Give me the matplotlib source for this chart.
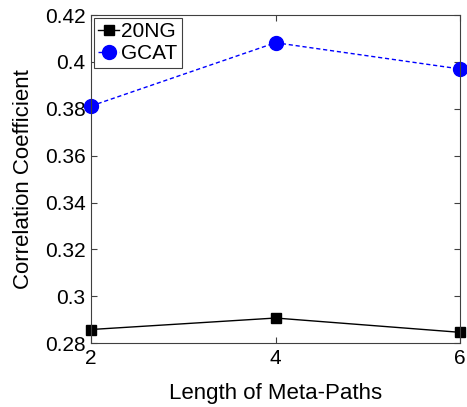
import matplotlib
matplotlib.use("Agg")
import matplotlib.pyplot as plt

plt.rcParams['font.family'] = ['Liberation Sans', 'DejaVu Sans']

path_len = [2, 4, 6]
ng20 = [0.2858, 0.2907, 0.2846]
gcat = [0.3812, 0.4082, 0.3970]
y_ticks = [0.28, 0.3, 0.32, 0.34, 0.36, 0.38, 0.4, 0.42]
y_tick_labels = ['0.28', '0.3', '0.32', '0.34', '0.36', '0.38', '0.4', '0.42']

fig = plt.figure(figsize=(4.67, 4.07), dpi=100)
ax = fig.add_axes([0.195, 0.157, 0.79, 0.806])

ax.plot(path_len, ng20, color='black', marker='s', markersize=7,
        linewidth=1, label='20NG')
ax.plot(path_len, gcat, color='blue', marker='o', markersize=10,
        linewidth=1, linestyle=(0, (3, 2)), label='GCAT')

ax.set_xlim(2, 6)
ax.set_ylim(0.28, 0.42)
ax.set_xticks(path_len)
ax.set_yticks(y_ticks)
ax.set_yticklabels(y_tick_labels)
ax.tick_params(direction='in', top=True, right=True, labelsize=15,
               length=4, color='#404040', pad=4)
for s in ax.spines.values():
    s.set_color('#404040')
    s.set_linewidth(0.8)
for m in ax.lines:
    m.set_clip_on(False)

ax.set_xlabel('Length of Meta-Paths', fontsize=16, labelpad=11)
ax.set_ylabel('Correlation Coefficient', fontsize=16, labelpad=8)

leg = ax.legend(loc='upper left', fontsize=15, handlelength=1.0,
                handletextpad=0.1, borderpad=0.2, labelspacing=0.15,
                borderaxespad=0.15, fancybox=False, framealpha=1)
leg.get_frame().set_edgecolor('#404040')
leg.get_frame().set_linewidth(0.8)

fig.savefig('out.png', dpi=100)
